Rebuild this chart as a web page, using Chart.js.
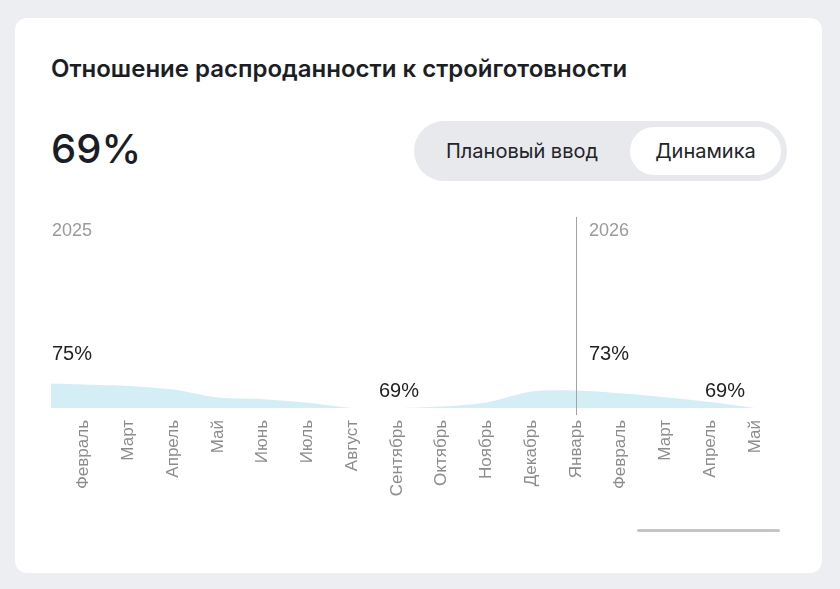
<!DOCTYPE html>
<html lang="ru">
<head>
    <meta charset="UTF-8">
    <title>Отношение распроданности к стройготовности</title>
    <style>
        body {
            margin: 0;
            width: 840px;
            height: 589px;
            background-color: #eceef2;
            font-family: Inter, 'Noto Sans', sans-serif;
            position: relative;
            overflow: hidden;
        }
        .card {
            position: absolute;
            left: 15px;
            top: 18px;
            width: 807px;
            height: 555px;
            background-color: #fff;
            border-radius: 12px;
        }
        .title {
            position: absolute;
            left: 51px;
            top: 54px;
            margin: 0;
            font-size: 24px;
            font-weight: 600;
            color: #1c1e26;
        }
        .big-value {
            position: absolute;
            left: 51px;
            top: 124px;
            font-size: 40px;
            font-weight: 500;
            color: #1a1d26;
        }
        .toggle {
            position: absolute;
            left: 414px;
            top: 121px;
            width: 373px;
            height: 60px;
            border-radius: 30px;
            background-color: #e8e9ec;
        }
        .toggle span {
            position: absolute;
            top: 6px;
            height: 48px;
            line-height: 48px;
            font-size: 20px;
            color: #222429;
            text-align: center;
        }
        .toggle .off { left: 8px; width: 200px; }
        .toggle .on {
            left: 216px;
            width: 151px;
            border-radius: 24px;
            background-color: #fff;
        }
        .chart-clip {
            position: absolute;
            left: 51px;
            top: 204px;
            width: 724px;
            height: 304px;
            overflow: hidden;
        }
        .chart-clip canvas {
            position: absolute;
            left: -12px;
            top: 0;
        }
        .scrollbar {
            position: absolute;
            left: 637px;
            top: 529px;
            width: 143px;
            height: 3px;
            border-radius: 2px;
            background-color: #c4c4cc;
        }
    </style>
    <script src="https://cdn.jsdelivr.net/npm/chart.js"></script>
</head>
<body>
    <div class="card"></div>
    <h2 class="title">Отношение распроданности к стройготовности</h2>
    <div class="big-value" id="bigValue"></div>
    <div class="toggle">
        <span class="off">Плановый ввод</span>
        <span class="on">Динамика</span>
    </div>
    <div class="chart-clip">
        <canvas id="grafica" width="736" height="304" style="width:736px;height:304px"></canvas>
    </div>
    <div class="scrollbar"></div>

    <script>
        // месяцы (янв 2025 – май 2026), первый месяц уходит за левый край прокрутки
        const meses = ['Январь', 'Февраль', 'Март', 'Апрель', 'Май', 'Июнь', 'Июль', 'Август',
            'Сентябрь', 'Октябрь', 'Ноябрь', 'Декабрь', 'Январь', 'Февраль', 'Март', 'Апрель', 'Май'];
        const valores = [75.2, 74.9, 74.5, 73.6, 71.6, 71.2, 70.3, 69.0,
            69.0, 69.4, 70.4, 73.1, 73.4, 72.7, 71.7, 70.5, 69.0];
        const anos = ['2025', '2026'];
        const inicioAno = [0, 12];
        const minimos = [8, 16];

        document.getElementById('bigValue').textContent = Math.round(valores[valores.length - 1]) + '%';

        const anotaciones = {
            id: 'anotaciones',
            afterDatasetsDraw(chart) {
                const { ctx, chartArea, scales: { x, y } } = chart;
                const filaAlta = y.getPixelForValue(Math.max(...valores)) - 23;
                const filaBaja = y.getPixelForValue(Math.min(...valores)) - 11;
                ctx.save();
                inicioAno.forEach((idx, i) => {
                    const px = x.getPixelForValue(idx);
                    ctx.strokeStyle = '#a3a3a3';
                    ctx.lineWidth = 1;
                    ctx.beginPath();
                    ctx.moveTo(Math.round(px) + 0.5, chartArea.top - 67);
                    ctx.lineTo(Math.round(px) + 0.5, chartArea.bottom + 7);
                    ctx.stroke();

                    ctx.textAlign = 'left';
                    ctx.textBaseline = 'alphabetic';
                    ctx.fillStyle = '#9a9a9a';
                    ctx.font = '18px "Liberation Sans", Arial, sans-serif';
                    ctx.fillText(anos[i], px + 13, chartArea.top - 48);

                    ctx.fillStyle = '#1f1f1f';
                    ctx.font = '20px "Liberation Sans", Arial, sans-serif';
                    ctx.fillText(Math.round(valores[idx]) + '%', px + 13, filaAlta);
                });
                ctx.font = '20px "Liberation Sans", Arial, sans-serif';
                ctx.fillStyle = '#1f1f1f';
                minimos.forEach(idx => {
                    const texto = Math.round(valores[idx]) + '%';
                    const w = ctx.measureText(texto).width;
                    let cx = x.getPixelForValue(idx) + 2;
                    if (cx + w / 2 > chartArea.right - 10) cx = chartArea.right - 10 - w / 2;
                    ctx.textAlign = 'center';
                    ctx.fillText(texto, cx, filaBaja);
                });
                ctx.restore();
            }
        };

        const ctx = document.getElementById('grafica').getContext('2d');
        const chart = new Chart(ctx, {
            type: 'line',
            data: {
                labels: meses,
                datasets: [{
                    data: valores,
                    fill: 'start',
                    backgroundColor: '#d4eef6',
                    borderWidth: 0,
                    pointRadius: 0,
                    tension: 0.3
                }]
            },
            options: {
                responsive: false,
                animation: false,
                layout: { padding: { left: 0, right: 20, top: 80, bottom: 0 } },
                plugins: {
                    legend: { display: false },
                    tooltip: { enabled: false }
                },
                scales: {
                    x: {
                        grid: { display: false, drawTicks: false },
                        border: { display: false },
                        ticks: {
                            autoSkip: false,
                            minRotation: 90,
                            maxRotation: 90,
                            padding: 12,
                            color: '#8c8c8c',
                            font: { family: '"Liberation Sans", Arial, sans-serif', size: 17 },
                            callback: (v, i) => i === 0 ? '' : meses[i]
                        },
                        afterFit(scale) {
                            scale.height = 100;
                            scale.paddingLeft = 0;
                            scale.paddingRight = 0;
                        }
                    },
                    y: {
                        display: false,
                        min: 69,
                        max: 100
                    }
                }
            },
            plugins: [anotaciones]
        });
    </script>
</body>
</html>
